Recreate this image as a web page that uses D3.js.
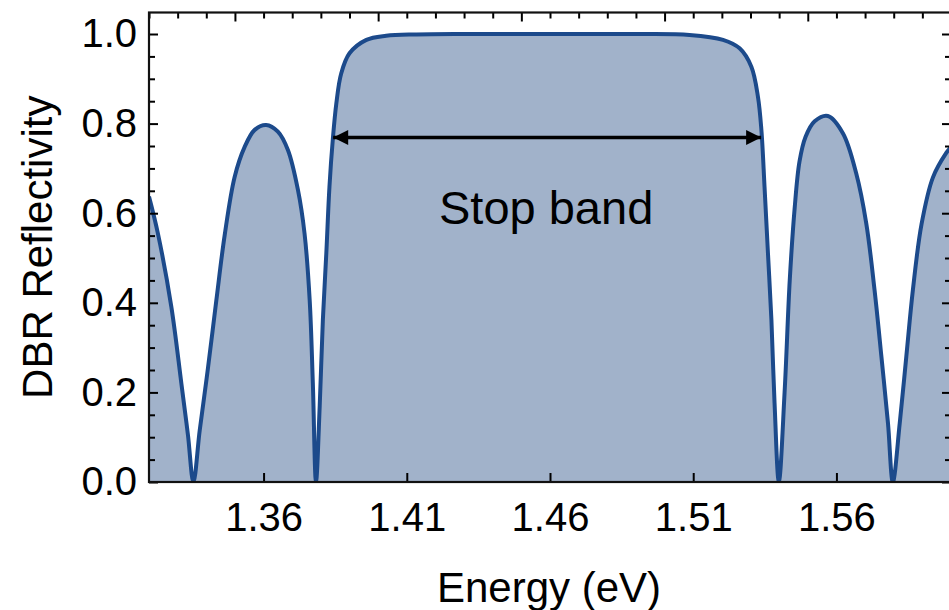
<!DOCTYPE html>
<html>
<head>
<meta charset="utf-8">
<script src="https://cdn.jsdelivr.net/npm/d3@7"></script>
<style>
  html, body { margin: 0; padding: 0; background: #ffffff; }
  svg { display: block; font-family: "Liberation Sans", Arial, Helvetica, sans-serif; }
</style>
</head>
<body>
<svg id="chart" width="949" height="610"></svg>
<script>
// ---- data ----
const energy = [1.3200, 1.3231, 1.3278, 1.3313, 1.3336, 1.3355, 1.3377, 1.3406, 1.3435, 1.3464,
  1.3499, 1.3534, 1.3569, 1.3609, 1.3650, 1.3685, 1.3720, 1.3743, 1.3761, 1.3772,
  1.3783, 1.3796, 1.3807, 1.3819, 1.3830, 1.3842, 1.3854, 1.3871, 1.3900, 1.3959,
  1.4028, 1.4133, 1.4300, 1.4600, 1.4900, 1.5087, 1.5204, 1.5262, 1.5303, 1.5326,
  1.5338, 1.5349, 1.5361, 1.5373, 1.5384, 1.5399, 1.5419, 1.5437, 1.5454, 1.5471,
  1.5492, 1.5524, 1.5570, 1.5623, 1.5669, 1.5704, 1.5733, 1.5757, 1.5780, 1.5797,
  1.5821, 1.5844, 1.5867, 1.5897, 1.5937, 1.5984, 1.6000];
const reflectivity = [0.637, 0.555, 0.391, 0.220, 0.105, 0.000, 0.115, 0.255, 0.405, 0.550,
  0.681, 0.748, 0.786, 0.797, 0.782, 0.741, 0.652, 0.555, 0.406, 0.221,
  0.000, 0.170, 0.362, 0.510, 0.659, 0.767, 0.845, 0.912, 0.957, 0.987,
  0.996, 0.999, 1.000, 1.000, 1.000, 0.998, 0.987, 0.968, 0.927, 0.860,
  0.786, 0.659, 0.510, 0.362, 0.176, 0.000, 0.200, 0.450, 0.610, 0.715,
  0.770, 0.805, 0.817, 0.778, 0.689, 0.578, 0.429, 0.280, 0.131, 0.000,
  0.131, 0.280, 0.429, 0.575, 0.680, 0.735, 0.748];

const xDomain = [1.32, 1.60];
const yDomain = [0, 1.048];
const bottomTicks = [1.36, 1.41, 1.46, 1.51, 1.56];
const topMajorTicks = [1.35, 1.40, 1.45, 1.50, 1.55, 1.60];
const topMinorTicks = [1.32, 1.33, 1.34, 1.36, 1.37, 1.38, 1.39, 1.41, 1.42, 1.43, 1.44,
  1.46, 1.47, 1.48, 1.49, 1.51, 1.52, 1.53, 1.54, 1.56, 1.57, 1.58, 1.59];
const yMajorTicks = [0.0, 0.2, 0.4, 0.6, 0.8, 1.0];
const yMinorTicks = [0.05, 0.10, 0.15, 0.25, 0.30, 0.35, 0.45, 0.50, 0.55, 0.65, 0.70, 0.75, 0.85, 0.90, 0.95];
const stopBandEdges = [1.3843, 1.5337];
const arrowLevel = 0.769;
const stopBandLabel = "Stop band";
const labelLevel = 0.577;
const xLabel = "Energy (eV)";
const yLabel = "DBR Reflectivity";

// ---- layout ----
const pLeft = 149, pRight = 951, pTop = 12.5, pBottom = 482;
const lineColor = "#1c4a8b";
const fillColor = "#a1b2ca";

const svg = d3.select("#chart");
const x = d3.scaleLinear().domain(xDomain).range([pLeft, pRight]);
const y = d3.scaleLinear().domain(yDomain).range([pBottom, pTop]);

const pts = energy.map((e, i) => ({ e, r: reflectivity[i] }));
const curve = d3.curveCatmullRom.alpha(0.5);

const defs = svg.append("defs");
defs.append("clipPath").attr("id", "clip")
  .append("rect").attr("x", pLeft).attr("y", pTop).attr("width", pRight - pLeft).attr("height", pBottom - pTop);

const plot = svg.append("g").attr("clip-path", "url(#clip)");

plot.append("path").datum(pts)
  .attr("fill", fillColor)
  .attr("d", d3.area().x(d => x(d.e)).y0(y(0)).y1(d => y(d.r)).curve(curve));

plot.append("path").datum(pts)
  .attr("fill", "none")
  .attr("stroke", lineColor)
  .attr("stroke-width", 4)
  .attr("stroke-linejoin", "round")
  .attr("d", d3.line().x(d => x(d.e)).y(d => y(d.r)).curve(curve));

// ---- axes / ticks ----
const fontTick = 40;
function styleAxis(g) {
  g.select(".domain").remove();
  g.selectAll(".tick line").attr("stroke", "#000").attr("stroke-width", 2);
  g.selectAll(".tick text").attr("fill", "#000").style("font-size", fontTick + "px");
}

svg.append("g").attr("transform", `translate(0,${pBottom})`)
  .call(d3.axisBottom(x).tickValues(bottomTicks).tickSize(-9).tickPadding(21).tickFormat(d3.format(".2f")))
  .call(styleAxis);

svg.append("g").attr("transform", `translate(${pLeft},0)`)
  .call(d3.axisLeft(y).tickValues(yMajorTicks).tickSize(-9).tickPadding(12).tickFormat(d3.format(".1f")))
  .call(styleAxis);
svg.append("g").attr("transform", `translate(${pLeft},0)`)
  .call(d3.axisLeft(y).tickValues(yMinorTicks).tickSize(-6).tickFormat(""))
  .call(styleAxis);

svg.append("g").attr("transform", `translate(${pRight},0)`)
  .call(d3.axisRight(y).tickValues(yMajorTicks).tickSize(-9).tickFormat(""))
  .call(styleAxis);
svg.append("g").attr("transform", `translate(${pRight},0)`)
  .call(d3.axisRight(y).tickValues(yMinorTicks).tickSize(-6).tickFormat(""))
  .call(styleAxis);

svg.append("g").attr("transform", `translate(0,${pTop})`)
  .call(d3.axisTop(x).tickValues(topMajorTicks).tickSize(-9).tickFormat(""))
  .call(styleAxis);
svg.append("g").attr("transform", `translate(0,${pTop})`)
  .call(d3.axisTop(x).tickValues(topMinorTicks).tickSize(-6).tickFormat(""))
  .call(styleAxis);

// frame
svg.append("rect")
  .attr("x", pLeft).attr("y", pTop).attr("width", pRight - pLeft).attr("height", pBottom - pTop)
  .attr("fill", "none").attr("stroke", "#111").attr("stroke-width", 2.2);

// ---- arrow ----
defs.append("marker").attr("id", "ahEnd").attr("markerUnits", "userSpaceOnUse")
  .attr("markerWidth", 16).attr("markerHeight", 16).attr("refX", 15).attr("refY", 8)
  .attr("orient", "auto")
  .append("path").attr("d", "M0,0.5 L15,8 L0,15.5 Z").attr("fill", "#000");
defs.append("marker").attr("id", "ahStart").attr("markerUnits", "userSpaceOnUse")
  .attr("markerWidth", 16).attr("markerHeight", 16).attr("refX", 0).attr("refY", 8)
  .attr("orient", "auto")
  .append("path").attr("d", "M15,0.5 L0,8 L15,15.5 Z").attr("fill", "#000");

svg.append("line")
  .attr("x1", x(stopBandEdges[0])).attr("x2", x(stopBandEdges[1]))
  .attr("y1", y(arrowLevel)).attr("y2", y(arrowLevel))
  .attr("stroke", "#000").attr("stroke-width", 3.5)
  .attr("marker-start", "url(#ahStart)").attr("marker-end", "url(#ahEnd)");

svg.append("text")
  .attr("x", x((stopBandEdges[0] + stopBandEdges[1]) / 2) - 1)
  .attr("y", y(labelLevel))
  .attr("text-anchor", "middle")
  .style("font-size", "47px")
  .attr("fill", "#000")
  .text(stopBandLabel);

// ---- axis labels ----
svg.append("text")
  .attr("x", (pLeft + pRight) / 2 - 1).attr("y", 601.5)
  .attr("text-anchor", "middle")
  .style("font-size", "42px").attr("fill", "#000")
  .text(xLabel);

svg.append("text")
  .attr("transform", `translate(52,${(pTop + pBottom) / 2}) rotate(-90)`)
  .attr("text-anchor", "middle")
  .style("font-size", "42px").attr("fill", "#000")
  .text(yLabel);
</script>
</body>
</html>
